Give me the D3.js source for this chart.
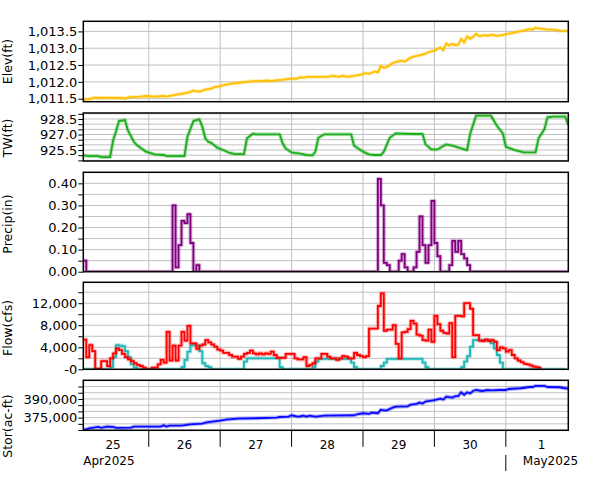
<!DOCTYPE html>
<html><head><meta charset="utf-8">
<script src="https://cdn.jsdelivr.net/npm/d3@7"></script>
<style>body{margin:0;background:#fff}svg{display:block;font-family:"DejaVu Sans",sans-serif}</style>
</head><body><svg id="c" width="601" height="480"></svg>
<script>
// ---------------- DATA ----------------
const startTime = Date.UTC(2025, 3, 25, 2);   // first hour shown
const endHour = 163;                           // hours shown
const dayLabels = ["25", "26", "27", "28", "29", "30", "1"];
const monthLabels = ["Apr2025", "May2025"];

// Elevation (hour offset, ft)
const elevHours = [0,1,2,4,13,14,15,19,21,24,27,28,30,32,34,36,37,39,41,43,44,46,48,50,53,55,57,59,62,63,65,67,69,72,73,74,75,82,84,86,87,89,91,93,95,96,98,99,100,101,102,104,105,107,108,110,111,113,115,116,118,119,120,121,122,123,124,125,126,127,128,129,130,131,132,133,135,136,137,139,141,142,144,147,148,150,151,152,153,156,158,160,163];
const elevValues = [1011.47,1011.48,1011.49,1011.53,1011.52,1011.50,1011.54,1011.56,1011.58,1011.56,1011.58,1011.56,1011.60,1011.63,1011.66,1011.70,1011.74,1011.71,1011.77,1011.80,1011.84,1011.87,1011.92,1011.95,1011.98,1012.00,1012.02,1012.02,1012.04,1012.02,1012.05,1012.06,1012.09,1012.10,1012.14,1012.12,1012.15,1012.15,1012.18,1012.15,1012.18,1012.15,1012.18,1012.21,1012.26,1012.24,1012.31,1012.28,1012.47,1012.42,1012.44,1012.56,1012.59,1012.63,1012.60,1012.72,1012.75,1012.79,1012.84,1012.88,1012.93,1012.98,1013.02,1012.94,1013.14,1013.08,1013.13,1013.09,1013.10,1013.28,1013.17,1013.35,1013.28,1013.34,1013.43,1013.36,1013.39,1013.37,1013.40,1013.37,1013.39,1013.42,1013.45,1013.51,1013.52,1013.57,1013.55,1013.61,1013.59,1013.55,1013.55,1013.52,1013.51];

// Tailwater (hour offset, ft)
const twHours = [0,2,5,6,9,10,11,12,14,15,17,18,20,21,24,27,28,34,35,37,39,40,41,42,43,45,47,49,51,54,55,57,58,66,67,68,70,73,75,77,78,79,81,90,91,94,96,98,100,101,103,105,111,114,115,117,119,122,124,127,129,130,132,137,139,141,142,145,148,152,153,155,156,158,162,163];
const twValues = [924.98,924.92,924.92,924.82,924.82,926.4,927.3,928.3,928.4,927.4,926.3,925.98,925.56,925.34,925.08,925.02,924.92,924.92,926.79,928.3,928.47,927.76,926.63,926.3,926.2,925.73,925.5,925.24,925.11,925.11,926.63,927.08,927.02,927.02,926.15,925.66,925.27,925.15,925.02,924.98,925.34,926.69,927.02,927.02,925.92,925.34,925.08,925.02,925.02,925.34,926.69,927.11,927.05,927.05,926.05,925.56,925.56,926.05,925.92,925.66,925.5,927.05,928.82,928.82,927.85,927.11,925.82,925.5,925.27,925.27,926.63,927.53,928.66,928.73,928.73,927.92];

// Hourly precipitation (in), from hour 0
const precipHourly = [
 0.05,0,0,0,0,0,0,0,0,0,
 0,0,0,0,0,0,0,0,0,0,
 0,0,0,0,0,0,0,0,0,0,
 0.30,0.02,0.12,0.23,0.22,0.26,0.13,0,0.03,0,
 0,0,0,0,0,0,0,0,0,0,
 0,0,0,0,0,0,0,0,0,0,
 0,0,0,0,0,0,0,0,0,0,
 0,0,0,0,0,0,0,0,0,0,
 0,0,0,0,0,0,0,0,0,0,
 0,0,0,0,0,0,0,0,0,0.42,
 0.30,0.04,0.03,0,0,0,0.05,0.08,0.02,0,
 0,0.02,0.09,0.25,0.12,0.04,0.12,0.32,0.13,0.07,
 0,0,0,0.03,0.14,0.09,0.14,0.08,0.06,0.03,
 0,0,0,0,0,0,0,0,0,0,
 0,0,0,0,0,0,0,0,0,0,
 0,0,0,0,0,0,0,0,0,0,
 0,0,0];

// Hourly flows (cfs), from hour 0
const inflowHourly = [
 5400,2200,4400,3300,100,100,1500,1500,600,2000,
 2900,3800,3500,2800,2200,1800,1500,1100,800,600,
 300,0,0,300,300,900,1700,1200,6800,1600,
 4300,1600,4300,6800,5200,7900,4700,4700,3700,4300,
 4500,5300,4900,4500,4100,3600,3400,3000,3000,2600,
 2300,2300,1900,2300,2800,3000,3400,2900,2700,2900,
 2700,2900,2800,3200,2600,2100,2100,2100,2800,2800,
 2800,2000,1800,1800,2200,600,800,1100,2000,2000,
 2800,2800,2300,2000,2000,1700,2000,2400,2300,2000,
 2000,3000,2600,2400,2200,2400,7400,7400,7400,11500,
 13800,7000,7200,7200,8000,4600,2000,6700,6800,7300,
 8800,8300,6300,6100,5300,5200,7200,5000,9700,8200,
 7000,6600,6500,8400,2200,9700,9700,9600,12000,12000,
 11000,6200,6200,5200,5100,5400,5100,5300,5000,3500,
 4000,3800,3200,3500,2600,2000,1600,1300,1000,900,
 700,500,400,300];
const outflowHourly = [
 0,0,0,0,0,0,0,0,0,400,
 2200,4400,4300,4200,3300,2200,900,300,0,0,
 0,0,0,0,0,0,0,0,0,0,
 0,0,0,400,1700,3200,4400,4400,4300,3300,
 1100,600,400,0,0,0,0,0,0,0,
 0,0,0,0,1400,2000,2000,2000,2000,2000,
 2000,2000,2000,2000,2000,2000,400,0,0,0,
 0,0,0,0,0,0,0,400,1400,1900,
 1900,1900,1900,1900,1900,1900,1900,1900,1900,1900,
 1200,400,0,0,0,0,0,0,0,0,
 600,1200,1900,1900,1900,1900,1900,1900,1900,1900,
 1900,1900,1900,1900,1200,400,0,0,0,0,
 0,0,0,0,0,0,0,400,1400,2400,
 4100,5300,5300,5300,5300,5300,5300,4700,3800,2600,
 1200,0,0,0,0,0,0,0,0,0,
 0,0,0,0,0,0,0,0,0,0,
 0,0];

// Storage (hour offset, ac-ft)
const storHours = [0,1,2,5,6,8,10,11,16,17,26,27,28,29,33,36,40,41,44,46,48,52,58,65,66,69,70,72,73,74,75,76,78,81,91,92,94,96,97,99,100,101,102,104,105,109,110,112,113,114,115,118,120,121,122,124,125,126,127,128,129,130,131,132,134,136,137,140,142,143,147,150,151,152,155,156,160,162,163];
const storValues = [365400,365600,366400,367500,366700,367800,367500,366700,366900,367800,367800,368800,367800,368600,368600,369600,370200,371000,372000,372600,373400,374200,374500,375000,375500,375800,376900,375800,376100,376600,375800,376600,375800,376600,376900,377700,378500,378000,379000,378500,381400,380900,380900,383000,383800,384100,385400,386000,387100,386300,387900,389000,390300,389500,391900,391100,392200,392200,395400,393300,395400,394400,396400,397200,396400,397200,396900,397200,397200,398000,398600,399600,399600,400500,400500,399600,399400,398600,398400];

// Axis ticks
const elevTicks = [1011.5, 1012.0, 1012.5, 1013.0, 1013.5];
const elevTickLabels = ["1,011.5", "1,012.0", "1,012.5", "1,013.0", "1,013.5"];
const twGrid = [924.5, 925, 925.5, 926, 926.5, 927, 927.5, 928, 928.5, 929];
const twTicks = [925.5, 927.0, 928.5];
const twTickLabels = ["925.5", "927.0", "928.5"];
const precipGrid = [0, 0.05, 0.1, 0.15, 0.2, 0.25, 0.3, 0.35, 0.4];
const precipTicks = [0, 0.1, 0.2, 0.3, 0.4];
const precipTickLabels = ["0.00", "0.10", "0.20", "0.30", "0.40"];
const flowGrid = [0, 2000, 4000, 6000, 8000, 10000, 12000, 14000];
const flowTicks = [0, 4000, 8000, 12000];
const flowTickLabels = ["-0", "4,000", "8,000", "12,000"];
const storGrid = [365000, 370000, 375000, 380000, 385000, 390000, 395000, 400000];
const storTicks = [375000, 390000];
const storTickLabels = ["375,000", "390,000"];

// ---------------- DRAW ----------------
const svg = d3.select("#c");
svg.append("rect").attr("width", 601).attr("height", 480).attr("fill", "#fff");
const H = 3600e3;
const t = h => new Date(startTime + h * H);
const L = 83.3, R = 568.3;
const x = d3.scaleUtc().domain([t(0), t(endHour)]).range([L, R]);
const dayBounds = d3.utcDay.range(t(0), t(endHour));

const panels = [
  {top: 21.3, bottom: 101.7, domain: [1011.41, 1013.80], grid: elevTicks, ticks: elevTicks, labels: elevTickLabels, title: "Elev(ft)", ty: 61.5},
  {top: 113, bottom: 161, domain: [924.44, 929.08], grid: twGrid, ticks: twGrid, labels: twTickLabels, major: twTicks, title: "TW(ft)", ty: 138},
  {top: 172.3, bottom: 271.7, domain: [0, 0.45], grid: precipGrid, ticks: precipGrid, labels: precipTickLabels, major: precipTicks, title: "Precip(in)", ty: 224},
  {top: 282.3, bottom: 369.3, domain: [0, 15800], grid: flowGrid, ticks: flowGrid, labels: flowTickLabels, major: flowTicks, title: "Flow(cfs)", ty: 328},
  {top: 380.3, bottom: 430.3, domain: [364800, 405000], grid: storGrid, ticks: storGrid, labels: storTickLabels, major: storTicks, title: "Stor(ac-ft)", ty: 426}
];

function drawLine(g, pts, y, color, curve) {
  const line = d3.line().x(d => x(t(d[0]))).y(d => y(d[1])).curve(curve);
  g.append("path").datum(pts).attr("d", line).attr("fill", "none")
    .attr("stroke", color).attr("stroke-width", 4).attr("stroke-opacity", 0.3).attr("stroke-linejoin", "round");
  g.append("path").datum(pts).attr("d", line).attr("fill", "none")
    .attr("stroke", color).attr("stroke-width", 1.8).attr("stroke-linejoin", "miter");
}
const pairs = (hs, vs) => hs.map((h, i) => [h, vs[i]]);
const hourly = vs => { const p = vs.map((v, i) => [i, v]); p.push([vs.length, vs[vs.length - 1]]); return p; };

panels.forEach((p, idx) => {
  const y = d3.scaleLinear().domain(p.domain).range([p.bottom, p.top]);
  p.y = y;
  const g = svg.append("g");
  // grid
  g.selectAll(".hg").data(p.grid).join("line")
    .attr("x1", L).attr("x2", R).attr("y1", d => y(d)).attr("y2", d => y(d))
    .attr("stroke", "#c0c0c0").attr("stroke-width", 1);
  g.selectAll(".vg").data(dayBounds.filter(d => d > t(0))).join("line")
    .attr("x1", d => x(d)).attr("x2", d => x(d)).attr("y1", p.top).attr("y2", p.bottom)
    .attr("stroke", "#c0c0c0").attr("stroke-width", 1);
  // axis
  const majors = p.major || p.ticks;
  const ax = d3.axisLeft(y).tickValues(p.ticks).tickSize(5).tickPadding(1)
    .tickFormat(d => { const i = majors.indexOf(d); return i >= 0 ? p.labels[i] : ""; });
  const ag = g.append("g").attr("transform", `translate(${L},0)`).call(ax);
  ag.select(".domain").remove();
  ag.selectAll("line").attr("stroke", "#000");
  ag.selectAll("text").attr("font-size", 13).attr("font-family", "DejaVu Sans").attr("fill", "#000");
  // title
  g.append("text").attr("transform", `translate(7,${p.ty}) rotate(-90)`)
    .attr("text-anchor", "middle").attr("dominant-baseline", "central")
    .attr("font-size", 12.5).attr("fill", "#000").text(p.title);
  // clip
  svg.append("clipPath").attr("id", "cp" + idx).append("rect")
    .attr("x", L).attr("y", p.top).attr("width", R - L).attr("height", p.bottom - p.top);
  p.g = svg.append("g").attr("clip-path", `url(#cp${idx})`);
  p.border = () => svg.append("rect").attr("x", L).attr("y", p.top).attr("width", R - L).attr("height", p.bottom - p.top)
    .attr("fill", "none").attr("stroke", "#000").attr("stroke-width", 1.5);
});

drawLine(panels[0].g, pairs(elevHours, elevValues), panels[0].y, "#ffc000", d3.curveLinear);
drawLine(panels[1].g, pairs(twHours, twValues), panels[1].y, "#1cad1c", d3.curveLinear);
drawLine(panels[2].g, hourly(precipHourly), panels[2].y, "#800080", d3.curveStepAfter);
drawLine(panels[3].g, hourly(outflowHourly), panels[3].y, "#22b5b5", d3.curveStepAfter);
drawLine(panels[3].g, hourly(inflowHourly), panels[3].y, "#ff0000", d3.curveStepAfter);
drawLine(panels[4].g, pairs(storHours, storValues), panels[4].y, "#0a0aff", d3.curveLinear);
panels.forEach(p => p.border());

// bottom time axis
const bottom = panels[4].bottom;
const ticksIn = dayBounds.filter(d => d > t(0));
svg.selectAll(".dt").data(ticksIn).join("line")
  .attr("x1", d => x(d)).attr("x2", d => x(d)).attr("y1", bottom).attr("y2", bottom + 16.5)
  .attr("stroke", "#000").attr("stroke-width", 1);
const dayStarts = [d3.utcDay.floor(t(0))].concat(ticksIn);
svg.selectAll(".dl").data(dayStarts).join("text")
  .attr("x", d => x(new Date(+d + 12 * H))).attr("y", 449)
  .attr("text-anchor", "middle").attr("font-size", 12).attr("fill", "#000")
  .text((d, i) => dayLabels[i]);
const mayStart = ticksIn[ticksIn.length - 1];
svg.append("text").attr("x", L).attr("y", 464.5).attr("font-size", 12).attr("fill", "#000").text(monthLabels[0]);
svg.append("text").attr("x", x(mayStart) + 17).attr("y", 464.5).attr("font-size", 12).attr("fill", "#000").text(monthLabels[1]);
svg.append("line").attr("x1", x(mayStart)).attr("x2", x(mayStart)).attr("y1", 455).attr("y2", 471)
  .attr("stroke", "#000").attr("stroke-width", 1);
</script></body></html>
